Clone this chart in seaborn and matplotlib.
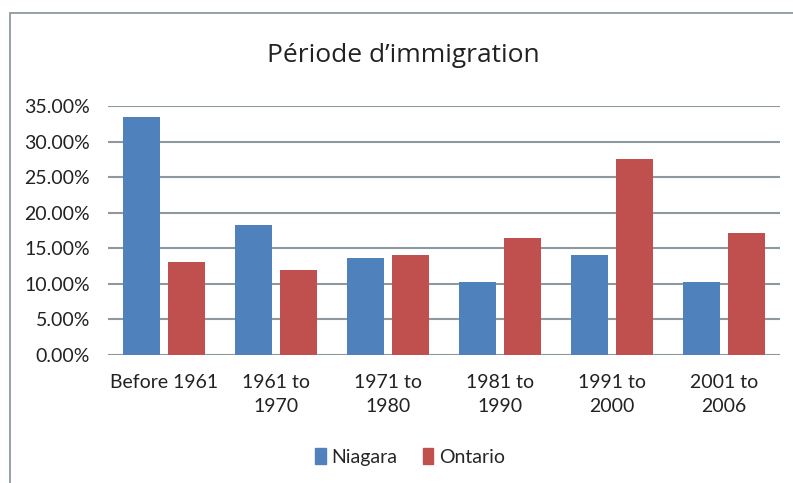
import numpy as np
import pandas as pd
import matplotlib
matplotlib.use("Agg")
import matplotlib.pyplot as plt
import matplotlib.patches as mpatches
from matplotlib.ticker import PercentFormatter
import seaborn as sns

# === data ===
periods = ["Before 1961", "1961 to\n1970", "1971 to\n1980", "1981 to\n1990",
           "1991 to\n2000", "2001 to\n2006"]
niagara = [33.4, 18.25, 13.6, 10.3, 14.0, 10.3]
ontario = [13.1, 11.9, 14.0, 16.4, 27.5, 17.1]
series_names = ["Niagara", "Ontario"]
colors = ["#4F81BD", "#C0504D"]
title = "Période d\u2019immigration"

df = pd.DataFrame({
    "period": periods * 2,
    "share": niagara + ontario,
    "region": [series_names[0]] * len(periods) + [series_names[1]] * len(periods),
})

sns.set_style("white")
plt.rcParams["font.family"] = ["Lato", "DejaVu Sans"]

fig = plt.figure(figsize=(7.93, 4.83), dpi=100)
ax = fig.add_axes([108 / 793, 1 - 355 / 483, (780 - 108) / 793, (355 - 106) / 483])

sns.barplot(data=df, x="period", y="share", hue="region", order=periods,
            hue_order=series_names, palette=colors, width=0.8, gap=0.17,
            saturation=1, linewidth=0, ax=ax, legend=False)

ax.set_ylim(0, 35)
ax.set_yticks(np.arange(0, 35.1, 5))
ax.yaxis.set_major_formatter(PercentFormatter(decimals=2))
ax.set_xlim(-0.5, len(periods) - 0.5)
ax.grid(axis="y", color="#8c9aa0", linewidth=1.5)
ax.set_axisbelow(True)
for s in ["left", "right", "top", "bottom"]:
    ax.spines[s].set_visible(False)
ax.set_xlabel("")
ax.set_ylabel("")
ax.tick_params(axis="y", length=0, pad=13, labelsize=14, colors="#222222")
ax.tick_params(axis="x", length=0, pad=14, labelsize=14, colors="#222222")
for lbl in ax.get_xticklabels():
    lbl.set_linespacing(1.45)
    lbl.set_verticalalignment("top")

fig.text(403 / 793, 1 - 55 / 483, title, ha="center", va="center",
         fontsize=19, family=["Open Sans", "DejaVu Sans"], color="#222222")

handles = [mpatches.Patch(color=c, label=n) for c, n in zip(colors, series_names)]
fig.legend(handles=handles, loc="center", bbox_to_anchor=(410 / 793, 1 - 457 / 483),
           ncol=2, frameon=False, fontsize=14, handlelength=0.55, handleheight=0.9,
           handletextpad=0.3, columnspacing=1.3)

# chart border
fig.patches.append(mpatches.Rectangle((10 / 793, -0.05), 1.2, 1 - 13 / 483 + 0.05,
                                      transform=fig.transFigure, fill=False,
                                      edgecolor="#8c9aa0", linewidth=1.3))

fig.savefig("out.png", dpi=100)
